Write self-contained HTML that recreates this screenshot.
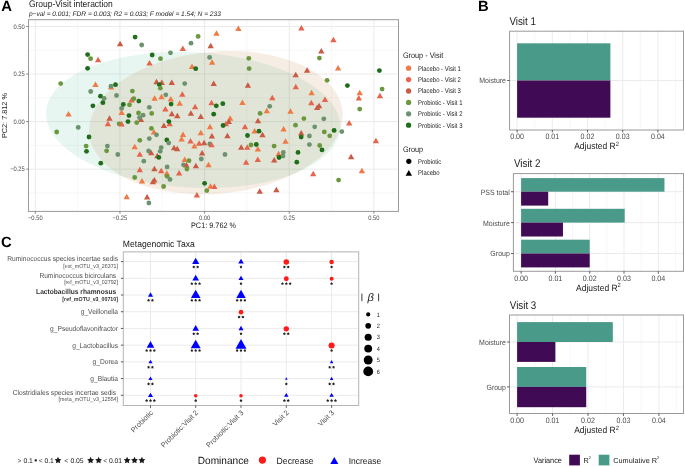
<!DOCTYPE html>
<html><head><meta charset="utf-8"><style>html,body{margin:0;padding:0;background:#fff;}svg{display:block;filter:blur(0.3px);}</style></head>
<body>
<svg width="685" height="467" viewBox="0 0 685 467" font-family='"Liberation Sans", sans-serif' text-rendering="geometricPrecision">
<rect x="0.00" y="0.00" width="685.00" height="467.00" fill="#ffffff" stroke="none" stroke-width="0"/>
<text x="1.20" y="11.30" font-size="14.8" text-anchor="start" fill="#000" font-weight="bold">A</text>
<text x="0" y="0" transform="translate(28.90 7.30) scale(0.8929 1)" font-size="9.520" text-anchor="start" fill="#1a1a1a">Group-Visit interaction</text>
<text x="28.90" y="15.60" font-size="6.6" text-anchor="start" fill="#1a1a1a" font-style="italic">p−val = 0.001; FDR = 0.003; R2 = 0.033; F model = 1.54; N = 233</text>
<clipPath id="clipA"><rect x="28.5" y="19.7" width="370.0" height="191.70000000000002"/></clipPath>
<g clip-path="url(#clipA)">
<line x1="77.62" y1="19.70" x2="77.62" y2="211.40" stroke="#f5f5f5" stroke-width="0.8"/>
<line x1="162.27" y1="19.70" x2="162.27" y2="211.40" stroke="#f5f5f5" stroke-width="0.8"/>
<line x1="246.93" y1="19.70" x2="246.93" y2="211.40" stroke="#f5f5f5" stroke-width="0.8"/>
<line x1="331.57" y1="19.70" x2="331.57" y2="211.40" stroke="#f5f5f5" stroke-width="0.8"/>
<line x1="28.50" y1="192.92" x2="398.50" y2="192.92" stroke="#f5f5f5" stroke-width="0.8"/>
<line x1="28.50" y1="145.38" x2="398.50" y2="145.38" stroke="#f5f5f5" stroke-width="0.8"/>
<line x1="28.50" y1="97.82" x2="398.50" y2="97.82" stroke="#f5f5f5" stroke-width="0.8"/>
<line x1="28.50" y1="50.28" x2="398.50" y2="50.28" stroke="#f5f5f5" stroke-width="0.8"/>
<line x1="35.30" y1="19.70" x2="35.30" y2="211.40" stroke="#ebebeb" stroke-width="1"/>
<line x1="119.95" y1="19.70" x2="119.95" y2="211.40" stroke="#ebebeb" stroke-width="1"/>
<line x1="204.60" y1="19.70" x2="204.60" y2="211.40" stroke="#ebebeb" stroke-width="1"/>
<line x1="289.25" y1="19.70" x2="289.25" y2="211.40" stroke="#ebebeb" stroke-width="1"/>
<line x1="373.90" y1="19.70" x2="373.90" y2="211.40" stroke="#ebebeb" stroke-width="1"/>
<line x1="28.50" y1="169.15" x2="398.50" y2="169.15" stroke="#ebebeb" stroke-width="1"/>
<line x1="28.50" y1="121.60" x2="398.50" y2="121.60" stroke="#ebebeb" stroke-width="1"/>
<line x1="28.50" y1="74.05" x2="398.50" y2="74.05" stroke="#ebebeb" stroke-width="1"/>
<line x1="28.50" y1="26.50" x2="398.50" y2="26.50" stroke="#ebebeb" stroke-width="1"/>
<ellipse cx="193.18" cy="119.97" rx="147.38" ry="67.71" transform="rotate(3.15 193.18 119.97)" fill="rgb(55,180,130)" fill-opacity="0.12"/>
<ellipse cx="215.95" cy="122.69" rx="127.1" ry="71.05" transform="rotate(-5.05 215.95 122.69)" fill="rgb(186,117,47)" fill-opacity="0.13"/>
<circle cx="87.60" cy="54.60" r="2.42" fill="#1e6e1a"/>
<circle cx="90.60" cy="58.70" r="2.42" fill="#6b983e"/>
<polygon points="98.10,56.66 101.26,62.14 94.94,62.14" fill="#e6634c"/>
<circle cx="87.60" cy="68.30" r="2.42" fill="#1e6e1a"/>
<polygon points="120.10,40.66 123.26,46.14 116.94,46.14" fill="#c95a43"/>
<circle cx="135.10" cy="37.10" r="2.42" fill="#1e6e1a"/>
<circle cx="141.70" cy="45.00" r="2.42" fill="#6c9270"/>
<circle cx="152.20" cy="55.00" r="2.42" fill="#1e6e1a"/>
<circle cx="160.50" cy="58.70" r="2.42" fill="#6b983e"/>
<circle cx="170.50" cy="52.80" r="2.42" fill="#6c9270"/>
<polygon points="149.50,60.06 152.66,65.54 146.34,65.54" fill="#e6634c"/>
<polygon points="182.80,45.46 185.96,50.94 179.64,50.94" fill="#e6634c"/>
<circle cx="191.00" cy="43.20" r="2.42" fill="#6c9270"/>
<circle cx="198.10" cy="36.40" r="2.42" fill="#6b983e"/>
<polygon points="192.00,63.56 195.16,69.04 188.84,69.04" fill="#f07a45"/>
<circle cx="195.70" cy="68.70" r="2.42" fill="#1e6e1a"/>
<polygon points="210.70,42.66 213.86,48.14 207.54,48.14" fill="#c95a43"/>
<circle cx="209.60" cy="57.40" r="2.42" fill="#6c9270"/>
<polygon points="212.10,59.16 215.26,64.64 208.94,64.64" fill="#f07a45"/>
<polygon points="238.40,25.56 241.56,31.04 235.24,31.04" fill="#f07a45"/>
<polygon points="216.50,30.36 219.66,35.84 213.34,35.84" fill="#f07a45"/>
<circle cx="248.80" cy="58.30" r="2.42" fill="#6b983e"/>
<circle cx="249.10" cy="68.60" r="2.42" fill="#6b983e"/>
<polygon points="295.70,71.76 298.86,77.24 292.54,77.24" fill="#c95a43"/>
<polygon points="301.40,25.06 304.56,30.54 298.24,30.54" fill="#e6634c"/>
<polygon points="333.40,36.86 336.56,42.34 330.24,42.34" fill="#e6634c"/>
<polygon points="321.30,47.96 324.46,53.44 318.14,53.44" fill="#c95a43"/>
<circle cx="319.40" cy="58.10" r="2.42" fill="#6b983e"/>
<polygon points="307.10,67.16 310.26,72.64 303.94,72.64" fill="#c95a43"/>
<polygon points="338.10,64.96 341.26,70.44 334.94,70.44" fill="#f07a45"/>
<circle cx="379.40" cy="70.60" r="2.42" fill="#1e6e1a"/>
<circle cx="327.10" cy="80.30" r="2.42" fill="#6b983e"/>
<circle cx="60.70" cy="83.60" r="2.42" fill="#6b983e"/>
<polygon points="95.50,81.56 98.66,87.04 92.34,87.04" fill="#f07a45"/>
<polygon points="111.00,84.06 114.16,89.54 107.84,89.54" fill="#f07a45"/>
<circle cx="111.00" cy="86.20" r="2.42" fill="#6c9270"/>
<circle cx="115.50" cy="84.70" r="2.42" fill="#1e6e1a"/>
<circle cx="90.70" cy="91.50" r="2.42" fill="#6c9270"/>
<circle cx="100.50" cy="96.20" r="2.42" fill="#1e6e1a"/>
<circle cx="104.10" cy="98.40" r="2.42" fill="#6c9270"/>
<circle cx="102.90" cy="102.70" r="2.42" fill="#1e6e1a"/>
<circle cx="116.50" cy="95.50" r="2.42" fill="#6c9270"/>
<circle cx="92.90" cy="105.80" r="2.42" fill="#1e6e1a"/>
<polygon points="68.50,110.96 71.66,116.44 65.34,116.44" fill="#f07a45"/>
<polygon points="109.50,115.26 112.66,120.74 106.34,120.74" fill="#c95a43"/>
<polygon points="107.90,120.76 111.06,126.24 104.74,126.24" fill="#e6634c"/>
<circle cx="119.10" cy="123.80" r="2.42" fill="#6b983e"/>
<circle cx="78.20" cy="127.40" r="2.42" fill="#6c9270"/>
<circle cx="56.70" cy="132.00" r="2.42" fill="#6b983e"/>
<circle cx="89.00" cy="137.00" r="2.42" fill="#1e6e1a"/>
<circle cx="86.10" cy="146.10" r="2.42" fill="#6b983e"/>
<circle cx="107.40" cy="146.10" r="2.42" fill="#6c9270"/>
<circle cx="121.60" cy="108.40" r="2.42" fill="#6c9270"/>
<polygon points="121.60,109.56 124.76,115.04 118.44,115.04" fill="#f07a45"/>
<polygon points="121.60,121.06 124.76,126.54 118.44,126.54" fill="#e6634c"/>
<polygon points="156.50,78.66 159.66,84.14 153.34,84.14" fill="#c95a43"/>
<polygon points="161.80,79.46 164.96,84.94 158.64,84.94" fill="#c95a43"/>
<polygon points="171.80,79.46 174.96,84.94 168.64,84.94" fill="#c95a43"/>
<circle cx="159.30" cy="84.60" r="2.42" fill="#1e6e1a"/>
<circle cx="160.30" cy="88.20" r="2.42" fill="#6b983e"/>
<circle cx="184.70" cy="83.60" r="2.42" fill="#6c9270"/>
<circle cx="132.40" cy="91.10" r="2.42" fill="#6b983e"/>
<circle cx="165.80" cy="94.80" r="2.42" fill="#6c9270"/>
<polygon points="154.60,95.16 157.76,100.64 151.44,100.64" fill="#f07a45"/>
<polygon points="161.50,93.76 164.66,99.24 158.34,99.24" fill="#f07a45"/>
<polygon points="170.80,95.96 173.96,101.44 167.64,101.44" fill="#f07a45"/>
<polygon points="182.30,91.36 185.46,96.84 179.14,96.84" fill="#e6634c"/>
<polygon points="131.60,97.06 134.76,102.54 128.44,102.54" fill="#e6634c"/>
<circle cx="133.80" cy="98.70" r="2.42" fill="#6b983e"/>
<circle cx="138.80" cy="101.10" r="2.42" fill="#1e6e1a"/>
<circle cx="123.30" cy="104.40" r="2.42" fill="#1e6e1a"/>
<circle cx="129.50" cy="104.80" r="2.42" fill="#6b983e"/>
<circle cx="171.10" cy="104.10" r="2.42" fill="#1e6e1a"/>
<polygon points="179.70,100.26 182.86,105.74 176.54,105.74" fill="#f07a45"/>
<circle cx="149.30" cy="107.30" r="2.42" fill="#6c9270"/>
<polygon points="165.40,105.96 168.56,111.44 162.24,111.44" fill="#e6634c"/>
<polygon points="195.10,103.76 198.26,109.24 191.94,109.24" fill="#e6634c"/>
<circle cx="138.50" cy="113.00" r="2.42" fill="#6b983e"/>
<polygon points="141.00,116.46 144.16,121.94 137.84,121.94" fill="#c95a43"/>
<circle cx="143.10" cy="115.20" r="2.42" fill="#6c9270"/>
<circle cx="139.50" cy="117.70" r="2.42" fill="#6c9270"/>
<circle cx="151.70" cy="113.40" r="2.42" fill="#6b983e"/>
<circle cx="129.00" cy="115.60" r="2.42" fill="#1e6e1a"/>
<polygon points="171.80,110.66 174.96,116.14 168.64,116.14" fill="#c95a43"/>
<polygon points="177.30,112.86 180.46,118.34 174.14,118.34" fill="#c95a43"/>
<polygon points="190.90,110.26 194.06,115.74 187.74,115.74" fill="#c95a43"/>
<polygon points="200.80,113.56 203.96,119.04 197.64,119.04" fill="#c95a43"/>
<circle cx="128.00" cy="121.60" r="2.42" fill="#1e6e1a"/>
<circle cx="136.70" cy="122.60" r="2.42" fill="#6b983e"/>
<polygon points="169.70,120.76 172.86,126.24 166.54,126.24" fill="#e6634c"/>
<circle cx="168.90" cy="121.60" r="2.42" fill="#1e6e1a"/>
<polygon points="163.90,122.46 167.06,127.94 160.74,127.94" fill="#c95a43"/>
<circle cx="151.40" cy="128.40" r="2.42" fill="#6b983e"/>
<polygon points="153.90,128.96 157.06,134.44 150.74,134.44" fill="#f07a45"/>
<circle cx="156.50" cy="134.80" r="2.42" fill="#6c9270"/>
<polygon points="183.00,131.46 186.16,136.94 179.84,136.94" fill="#f07a45"/>
<polygon points="181.60,136.06 184.76,141.54 178.44,141.54" fill="#f07a45"/>
<polygon points="200.80,129.66 203.96,135.14 197.64,135.14" fill="#f07a45"/>
<polygon points="190.50,137.96 193.66,143.44 187.34,143.44" fill="#e6634c"/>
<polygon points="210.00,123.86 213.16,129.34 206.84,129.34" fill="#f07a45"/>
<circle cx="139.80" cy="140.30" r="2.42" fill="#6b983e"/>
<circle cx="149.30" cy="138.60" r="2.42" fill="#6c9270"/>
<circle cx="166.80" cy="140.00" r="2.42" fill="#1e6e1a"/>
<circle cx="168.70" cy="142.90" r="2.42" fill="#6c9270"/>
<polygon points="199.10,140.36 202.26,145.84 195.94,145.84" fill="#e6634c"/>
<polygon points="204.10,139.66 207.26,145.14 200.94,145.14" fill="#c95a43"/>
<polygon points="211.50,99.76 214.66,105.24 208.34,105.24" fill="#e6634c"/>
<polygon points="213.70,80.46 216.86,85.94 210.54,85.94" fill="#c95a43"/>
<polygon points="247.90,82.26 251.06,87.74 244.74,87.74" fill="#c95a43"/>
<polygon points="295.80,83.76 298.96,89.24 292.64,89.24" fill="#e6634c"/>
<polygon points="272.30,94.76 275.46,100.24 269.14,100.24" fill="#e6634c"/>
<polygon points="242.40,99.46 245.56,104.94 239.24,104.94" fill="#f07a45"/>
<circle cx="216.30" cy="105.80" r="2.42" fill="#1e6e1a"/>
<circle cx="222.80" cy="103.70" r="2.42" fill="#1e6e1a"/>
<circle cx="269.70" cy="106.30" r="2.42" fill="#6c9270"/>
<polygon points="266.80,107.66 269.96,113.14 263.64,113.14" fill="#f07a45"/>
<polygon points="290.50,108.16 293.66,113.64 287.34,113.64" fill="#f07a45"/>
<circle cx="213.70" cy="114.20" r="2.42" fill="#1e6e1a"/>
<circle cx="260.10" cy="113.40" r="2.42" fill="#6b983e"/>
<polygon points="230.20,115.26 233.36,120.74 227.04,120.74" fill="#f07a45"/>
<polygon points="228.80,118.56 231.96,124.04 225.64,124.04" fill="#c95a43"/>
<polygon points="258.00,117.76 261.16,123.24 254.84,123.24" fill="#c95a43"/>
<polygon points="226.00,120.76 229.16,126.24 222.84,126.24" fill="#e6634c"/>
<circle cx="223.10" cy="125.50" r="2.42" fill="#1e6e1a"/>
<polygon points="245.00,123.86 248.16,129.34 241.84,129.34" fill="#e6634c"/>
<circle cx="295.50" cy="125.20" r="2.42" fill="#6b983e"/>
<polygon points="283.60,126.06 286.76,131.54 280.44,131.54" fill="#f07a45"/>
<polygon points="254.60,127.96 257.76,133.44 251.44,133.44" fill="#f07a45"/>
<circle cx="259.00" cy="131.20" r="2.42" fill="#1e6e1a"/>
<polygon points="262.50,131.76 265.66,137.24 259.34,137.24" fill="#c95a43"/>
<polygon points="211.90,132.96 215.06,138.44 208.74,138.44" fill="#c95a43"/>
<polygon points="227.40,132.76 230.56,138.24 224.24,138.24" fill="#c95a43"/>
<circle cx="247.50" cy="135.50" r="2.42" fill="#1e6e1a"/>
<polygon points="285.50,138.26 288.66,143.74 282.34,143.74" fill="#f07a45"/>
<circle cx="209.80" cy="143.90" r="2.42" fill="#6c9270"/>
<polygon points="211.60,141.86 214.76,147.34 208.44,147.34" fill="#e6634c"/>
<circle cx="251.00" cy="145.00" r="2.42" fill="#6b983e"/>
<circle cx="256.30" cy="144.50" r="2.42" fill="#1e6e1a"/>
<circle cx="274.10" cy="146.10" r="2.42" fill="#6b983e"/>
<polygon points="241.20,144.26 244.36,149.74 238.04,149.74" fill="#c95a43"/>
<polygon points="247.30,144.26 250.46,149.74 244.14,149.74" fill="#e6634c"/>
<circle cx="347.40" cy="85.60" r="2.42" fill="#1e6e1a"/>
<circle cx="382.10" cy="89.10" r="2.42" fill="#6b983e"/>
<polygon points="311.60,89.76 314.76,95.24 308.44,95.24" fill="#f07a45"/>
<polygon points="359.70,89.76 362.86,95.24 356.54,95.24" fill="#f07a45"/>
<polygon points="358.80,94.96 361.96,100.44 355.64,100.44" fill="#e6634c"/>
<polygon points="379.90,92.76 383.06,98.24 376.74,98.24" fill="#e6634c"/>
<polygon points="325.00,96.46 328.16,101.94 321.84,101.94" fill="#e6634c"/>
<polygon points="311.30,99.86 314.46,105.34 308.14,105.34" fill="#e6634c"/>
<polygon points="319.10,102.66 322.26,108.14 315.94,108.14" fill="#c95a43"/>
<polygon points="317.20,104.56 320.36,110.04 314.04,110.04" fill="#c95a43"/>
<circle cx="359.70" cy="109.10" r="2.42" fill="#6b983e"/>
<circle cx="303.90" cy="118.60" r="2.42" fill="#6b983e"/>
<circle cx="323.80" cy="118.80" r="2.42" fill="#6c9270"/>
<polygon points="349.20,120.06 352.36,125.54 346.04,125.54" fill="#e6634c"/>
<circle cx="314.70" cy="126.80" r="2.42" fill="#6c9270"/>
<circle cx="334.10" cy="130.40" r="2.42" fill="#1e6e1a"/>
<circle cx="341.80" cy="131.60" r="2.42" fill="#6c9270"/>
<circle cx="324.30" cy="131.90" r="2.42" fill="#6b983e"/>
<circle cx="329.70" cy="135.80" r="2.42" fill="#6b983e"/>
<polygon points="301.20,130.06 304.36,135.54 298.04,135.54" fill="#c95a43"/>
<circle cx="301.20" cy="137.10" r="2.42" fill="#1e6e1a"/>
<circle cx="309.40" cy="136.00" r="2.42" fill="#6c9270"/>
<circle cx="309.40" cy="144.60" r="2.42" fill="#6c9270"/>
<circle cx="319.70" cy="145.50" r="2.42" fill="#6b983e"/>
<polygon points="375.90,137.76 379.06,143.24 372.74,143.24" fill="#e6634c"/>
<circle cx="86.50" cy="151.30" r="2.42" fill="#1e6e1a"/>
<circle cx="106.60" cy="150.80" r="2.42" fill="#6b983e"/>
<circle cx="117.80" cy="154.50" r="2.42" fill="#6c9270"/>
<circle cx="100.80" cy="163.20" r="2.42" fill="#1e6e1a"/>
<polygon points="134.70,143.86 137.86,149.34 131.54,149.34" fill="#f07a45"/>
<circle cx="161.20" cy="147.60" r="2.42" fill="#6c9270"/>
<circle cx="160.20" cy="151.30" r="2.42" fill="#6c9270"/>
<circle cx="148.60" cy="151.00" r="2.42" fill="#6c9270"/>
<polygon points="151.20,149.66 154.36,155.14 148.04,155.14" fill="#c95a43"/>
<polygon points="139.80,151.16 142.96,156.64 136.64,156.64" fill="#e6634c"/>
<polygon points="157.30,152.86 160.46,158.34 154.14,158.34" fill="#c95a43"/>
<circle cx="158.80" cy="157.40" r="2.42" fill="#1e6e1a"/>
<polygon points="174.00,144.86 177.16,150.34 170.84,150.34" fill="#c95a43"/>
<polygon points="177.20,145.66 180.36,151.14 174.04,151.14" fill="#c95a43"/>
<polygon points="194.40,142.96 197.56,148.44 191.24,148.44" fill="#f07a45"/>
<polygon points="202.10,149.96 205.26,155.44 198.94,155.44" fill="#c95a43"/>
<circle cx="143.80" cy="161.20" r="2.42" fill="#6c9270"/>
<polygon points="184.70,156.56 187.86,162.04 181.54,162.04" fill="#f07a45"/>
<circle cx="189.00" cy="160.70" r="2.42" fill="#6b983e"/>
<circle cx="183.50" cy="164.80" r="2.42" fill="#6c9270"/>
<polygon points="186.40,162.06 189.56,167.54 183.24,167.54" fill="#c95a43"/>
<circle cx="186.90" cy="169.00" r="2.42" fill="#6b983e"/>
<circle cx="201.30" cy="159.00" r="2.42" fill="#6c9270"/>
<polygon points="195.90,162.76 199.06,168.24 192.74,168.24" fill="#c95a43"/>
<polygon points="208.50,161.66 211.66,167.14 205.34,167.14" fill="#f07a45"/>
<polygon points="139.80,166.76 142.96,172.24 136.64,172.24" fill="#e6634c"/>
<polygon points="154.40,165.76 157.56,171.24 151.24,171.24" fill="#c95a43"/>
<polygon points="161.20,167.76 164.36,173.24 158.04,173.24" fill="#e6634c"/>
<circle cx="167.10" cy="166.90" r="2.42" fill="#6c9270"/>
<polygon points="166.80,170.36 169.96,175.84 163.64,175.84" fill="#f07a45"/>
<circle cx="167.10" cy="176.30" r="2.42" fill="#6b983e"/>
<circle cx="170.00" cy="179.40" r="2.42" fill="#6c9270"/>
<polygon points="179.10,170.06 182.26,175.54 175.94,175.54" fill="#e6634c"/>
<circle cx="134.70" cy="177.50" r="2.42" fill="#6b983e"/>
<polygon points="142.00,177.96 145.16,183.44 138.84,183.44" fill="#f07a45"/>
<polygon points="154.40,176.96 157.56,182.44 151.24,182.44" fill="#c95a43"/>
<polygon points="152.90,178.86 156.06,184.34 149.74,184.34" fill="#c95a43"/>
<circle cx="163.60" cy="186.50" r="2.42" fill="#6b983e"/>
<circle cx="204.60" cy="183.30" r="2.42" fill="#1e6e1a"/>
<circle cx="206.80" cy="190.60" r="2.42" fill="#6b983e"/>
<polygon points="210.50,183.16 213.66,188.64 207.34,188.64" fill="#f07a45"/>
<polygon points="214.30,183.46 217.46,188.94 211.14,188.94" fill="#e6634c"/>
<polygon points="196.90,191.96 200.06,197.44 193.74,197.44" fill="#e6634c"/>
<polygon points="126.70,193.66 129.86,199.14 123.54,199.14" fill="#f07a45"/>
<polygon points="147.10,193.96 150.26,199.44 143.94,199.44" fill="#c95a43"/>
<circle cx="148.90" cy="203.00" r="2.42" fill="#6c9270"/>
<circle cx="225.00" cy="154.50" r="2.42" fill="#6c9270"/>
<polygon points="246.10,159.16 249.26,164.64 242.94,164.64" fill="#e6634c"/>
<polygon points="257.80,156.56 260.96,162.04 254.64,162.04" fill="#e6634c"/>
<polygon points="274.20,156.96 277.36,162.44 271.04,162.44" fill="#c95a43"/>
<polygon points="278.60,150.76 281.76,156.24 275.44,156.24" fill="#f07a45"/>
<circle cx="283.30" cy="152.40" r="2.42" fill="#6c9270"/>
<circle cx="283.00" cy="156.10" r="2.42" fill="#6c9270"/>
<circle cx="279.00" cy="157.50" r="2.42" fill="#1e6e1a"/>
<circle cx="298.00" cy="152.40" r="2.42" fill="#1e6e1a"/>
<circle cx="296.80" cy="162.20" r="2.42" fill="#1e6e1a"/>
<polygon points="257.90,145.96 261.06,151.44 254.74,151.44" fill="#f07a45"/>
<polygon points="259.70,188.26 262.86,193.74 256.54,193.74" fill="#c95a43"/>
<polygon points="276.40,186.66 279.56,192.14 273.24,192.14" fill="#c95a43"/>
<circle cx="322.00" cy="149.90" r="2.42" fill="#1e6e1a"/>
<polygon points="351.10,153.76 354.26,159.24 347.94,159.24" fill="#c95a43"/>
<polygon points="313.20,170.76 316.36,176.24 310.04,176.24" fill="#e6634c"/>
<polygon points="361.90,167.76 365.06,173.24 358.74,173.24" fill="#f07a45"/>
<circle cx="338.60" cy="180.10" r="2.42" fill="#6b983e"/>
</g>
<rect x="28.5" y="19.7" width="370.0" height="191.70000000000002" fill="none" stroke="#9a9a9a" stroke-width="1"/>
<line x1="26.20" y1="26.50" x2="28.50" y2="26.50" stroke="#6a6a6a" stroke-width="0.8"/>
<text x="0" y="0" transform="translate(24.80 28.70) scale(0.9091 1)" font-size="6.380" text-anchor="end" fill="#4d4d4d">0.50</text>
<line x1="26.20" y1="74.05" x2="28.50" y2="74.05" stroke="#6a6a6a" stroke-width="0.8"/>
<text x="0" y="0" transform="translate(24.80 76.25) scale(0.9091 1)" font-size="6.380" text-anchor="end" fill="#4d4d4d">0.25</text>
<line x1="26.20" y1="121.60" x2="28.50" y2="121.60" stroke="#6a6a6a" stroke-width="0.8"/>
<text x="0" y="0" transform="translate(24.80 123.80) scale(0.9091 1)" font-size="6.380" text-anchor="end" fill="#4d4d4d">0.00</text>
<line x1="26.20" y1="169.15" x2="28.50" y2="169.15" stroke="#6a6a6a" stroke-width="0.8"/>
<text x="0" y="0" transform="translate(24.80 171.35) scale(0.9091 1)" font-size="6.380" text-anchor="end" fill="#4d4d4d">−0.25</text>
<line x1="35.30" y1="211.40" x2="35.30" y2="213.70" stroke="#6a6a6a" stroke-width="0.8"/>
<text x="0" y="0" transform="translate(35.30 219.60) scale(0.9091 1)" font-size="6.380" text-anchor="middle" fill="#4d4d4d">−0.50</text>
<line x1="119.95" y1="211.40" x2="119.95" y2="213.70" stroke="#6a6a6a" stroke-width="0.8"/>
<text x="0" y="0" transform="translate(119.95 219.60) scale(0.9091 1)" font-size="6.380" text-anchor="middle" fill="#4d4d4d">−0.25</text>
<line x1="204.60" y1="211.40" x2="204.60" y2="213.70" stroke="#6a6a6a" stroke-width="0.8"/>
<text x="0" y="0" transform="translate(204.60 219.60) scale(0.9091 1)" font-size="6.380" text-anchor="middle" fill="#4d4d4d">0.00</text>
<line x1="289.25" y1="211.40" x2="289.25" y2="213.70" stroke="#6a6a6a" stroke-width="0.8"/>
<text x="0" y="0" transform="translate(289.25 219.60) scale(0.9091 1)" font-size="6.380" text-anchor="middle" fill="#4d4d4d">0.25</text>
<line x1="373.90" y1="211.40" x2="373.90" y2="213.70" stroke="#6a6a6a" stroke-width="0.8"/>
<text x="0" y="0" transform="translate(373.90 219.60) scale(0.9091 1)" font-size="6.380" text-anchor="middle" fill="#4d4d4d">0.50</text>
<text x="0" y="0" transform="translate(213.50 227.90) scale(0.9259 1)" font-size="7.884" text-anchor="middle" fill="#1a1a1a">PC1: 9.762 %</text>
<text x="0" y="0" font-size="7.3" text-anchor="middle" fill="#1a1a1a" transform="translate(6.9 115.6) rotate(-90)">PC2: 7.812 %</text>
<text x="0" y="0" transform="translate(402.90 58.30) scale(0.9091 1)" font-size="8.030" text-anchor="start" fill="#1a1a1a">Group - Visit</text>
<circle cx="408.60" cy="68.20" r="2.65" fill="#f07a45"/>
<text x="0" y="0" transform="translate(418.00 70.60) scale(0.8696 1)" font-size="6.842" text-anchor="start" fill="#1a1a1a">Placebo - Visit 1</text>
<circle cx="408.60" cy="79.60" r="2.65" fill="#e6634c"/>
<text x="0" y="0" transform="translate(418.00 82.00) scale(0.8696 1)" font-size="6.842" text-anchor="start" fill="#1a1a1a">Placebo - Visit 2</text>
<circle cx="408.60" cy="91.00" r="2.65" fill="#c95a43"/>
<text x="0" y="0" transform="translate(418.00 93.40) scale(0.8696 1)" font-size="6.842" text-anchor="start" fill="#1a1a1a">Placebo - Visit 3</text>
<circle cx="408.60" cy="102.40" r="2.65" fill="#6b983e"/>
<text x="0" y="0" transform="translate(418.00 104.80) scale(0.8696 1)" font-size="6.842" text-anchor="start" fill="#1a1a1a">Probiotic - Visit 1</text>
<circle cx="408.60" cy="113.80" r="2.65" fill="#6c9270"/>
<text x="0" y="0" transform="translate(418.00 116.20) scale(0.8696 1)" font-size="6.842" text-anchor="start" fill="#1a1a1a">Probiotic - Visit 2</text>
<circle cx="408.60" cy="125.20" r="2.65" fill="#1e6e1a"/>
<text x="0" y="0" transform="translate(418.00 127.60) scale(0.8696 1)" font-size="6.842" text-anchor="start" fill="#1a1a1a">Probiotic - Visit 3</text>
<text x="0" y="0" transform="translate(402.90 151.50) scale(0.9091 1)" font-size="8.030" text-anchor="start" fill="#1a1a1a">Group</text>
<circle cx="408.80" cy="161.30" r="2.60" fill="#000"/>
<text x="0" y="0" transform="translate(418.10 163.70) scale(0.8696 1)" font-size="6.842" text-anchor="start" fill="#1a1a1a">Probiotic</text>
<polygon points="408.80,170.10 412.03,175.70 405.57,175.70" fill="#000"/>
<text x="0" y="0" transform="translate(418.10 175.30) scale(0.8696 1)" font-size="6.842" text-anchor="start" fill="#1a1a1a">Placebo</text>
<text x="478.00" y="11.30" font-size="14.8" text-anchor="start" fill="#000" font-weight="bold">B</text>
<text x="0" y="0" transform="translate(509.40 25.00) scale(0.8696 1)" font-size="11.270" text-anchor="start" fill="#1a1a1a">Visit 1</text>
<line x1="534.70" y1="31.20" x2="534.70" y2="130.00" stroke="#f5f5f5" stroke-width="0.8"/>
<line x1="569.90" y1="31.20" x2="569.90" y2="130.00" stroke="#f5f5f5" stroke-width="0.8"/>
<line x1="605.10" y1="31.20" x2="605.10" y2="130.00" stroke="#f5f5f5" stroke-width="0.8"/>
<line x1="640.30" y1="31.20" x2="640.30" y2="130.00" stroke="#f5f5f5" stroke-width="0.8"/>
<line x1="675.50" y1="31.20" x2="675.50" y2="130.00" stroke="#f5f5f5" stroke-width="0.8"/>
<line x1="517.10" y1="31.20" x2="517.10" y2="130.00" stroke="#ebebeb" stroke-width="1"/>
<line x1="552.30" y1="31.20" x2="552.30" y2="130.00" stroke="#ebebeb" stroke-width="1"/>
<line x1="587.50" y1="31.20" x2="587.50" y2="130.00" stroke="#ebebeb" stroke-width="1"/>
<line x1="622.70" y1="31.20" x2="622.70" y2="130.00" stroke="#ebebeb" stroke-width="1"/>
<line x1="657.90" y1="31.20" x2="657.90" y2="130.00" stroke="#ebebeb" stroke-width="1"/>
<line x1="509.60" y1="80.50" x2="683.50" y2="80.50" stroke="#ebebeb" stroke-width="1"/>
<rect x="517.10" y="43.30" width="93.28" height="37.20" fill="#4a9a8a" stroke="none" stroke-width="0"/>
<rect x="517.10" y="80.50" width="93.28" height="37.20" fill="#400a55" stroke="none" stroke-width="0"/>
<rect x="509.6" y="31.2" width="173.89999999999998" height="98.8" fill="none" stroke="#9a9a9a" stroke-width="1"/>
<line x1="507.20" y1="80.50" x2="509.60" y2="80.50" stroke="#333333" stroke-width="0.8"/>
<text x="0" y="0" transform="translate(506.00 83.45) scale(0.9091 1)" font-size="7.700" text-anchor="end" fill="#4d4d4d">Moisture</text>
<line x1="517.10" y1="130.00" x2="517.10" y2="132.40" stroke="#333333" stroke-width="0.8"/>
<text x="0" y="0" transform="translate(517.10 139.40) scale(0.9091 1)" font-size="7.810" text-anchor="middle" fill="#4d4d4d">0.00</text>
<line x1="552.30" y1="130.00" x2="552.30" y2="132.40" stroke="#333333" stroke-width="0.8"/>
<text x="0" y="0" transform="translate(552.30 139.40) scale(0.9091 1)" font-size="7.810" text-anchor="middle" fill="#4d4d4d">0.01</text>
<line x1="587.50" y1="130.00" x2="587.50" y2="132.40" stroke="#333333" stroke-width="0.8"/>
<text x="0" y="0" transform="translate(587.50 139.40) scale(0.9091 1)" font-size="7.810" text-anchor="middle" fill="#4d4d4d">0.02</text>
<line x1="622.70" y1="130.00" x2="622.70" y2="132.40" stroke="#333333" stroke-width="0.8"/>
<text x="0" y="0" transform="translate(622.70 139.40) scale(0.9091 1)" font-size="7.810" text-anchor="middle" fill="#4d4d4d">0.03</text>
<line x1="657.90" y1="130.00" x2="657.90" y2="132.40" stroke="#333333" stroke-width="0.8"/>
<text x="0" y="0" transform="translate(657.90 139.40) scale(0.9091 1)" font-size="7.810" text-anchor="middle" fill="#4d4d4d">0.04</text>
<text x="0" y="0" transform="translate(596.55 149.00) scale(0.9259 1)" font-size="9.180" text-anchor="middle" fill="#1a1a1a">Adjusted R<tspan font-size="6.2" dy="-3.3">2</tspan></text>
<text x="0" y="0" transform="translate(514.00 166.50) scale(0.8696 1)" font-size="11.270" text-anchor="start" fill="#1a1a1a">Visit 2</text>
<line x1="538.25" y1="173.60" x2="538.25" y2="271.30" stroke="#f5f5f5" stroke-width="0.8"/>
<line x1="572.55" y1="173.60" x2="572.55" y2="271.30" stroke="#f5f5f5" stroke-width="0.8"/>
<line x1="606.85" y1="173.60" x2="606.85" y2="271.30" stroke="#f5f5f5" stroke-width="0.8"/>
<line x1="641.15" y1="173.60" x2="641.15" y2="271.30" stroke="#f5f5f5" stroke-width="0.8"/>
<line x1="675.45" y1="173.60" x2="675.45" y2="271.30" stroke="#f5f5f5" stroke-width="0.8"/>
<line x1="521.10" y1="173.60" x2="521.10" y2="271.30" stroke="#ebebeb" stroke-width="1"/>
<line x1="555.40" y1="173.60" x2="555.40" y2="271.30" stroke="#ebebeb" stroke-width="1"/>
<line x1="589.70" y1="173.60" x2="589.70" y2="271.30" stroke="#ebebeb" stroke-width="1"/>
<line x1="624.00" y1="173.60" x2="624.00" y2="271.30" stroke="#ebebeb" stroke-width="1"/>
<line x1="658.30" y1="173.60" x2="658.30" y2="271.30" stroke="#ebebeb" stroke-width="1"/>
<line x1="513.40" y1="191.70" x2="683.50" y2="191.70" stroke="#ebebeb" stroke-width="1"/>
<line x1="513.40" y1="222.60" x2="683.50" y2="222.60" stroke="#ebebeb" stroke-width="1"/>
<line x1="513.40" y1="253.50" x2="683.50" y2="253.50" stroke="#ebebeb" stroke-width="1"/>
<rect x="521.10" y="178.10" width="143.37" height="13.60" fill="#4a9a8a" stroke="none" stroke-width="0"/>
<rect x="521.10" y="191.70" width="27.10" height="13.90" fill="#400a55" stroke="none" stroke-width="0"/>
<rect x="521.10" y="208.80" width="103.59" height="13.80" fill="#4a9a8a" stroke="none" stroke-width="0"/>
<rect x="521.10" y="222.60" width="41.85" height="13.90" fill="#400a55" stroke="none" stroke-width="0"/>
<rect x="521.10" y="239.70" width="68.60" height="13.80" fill="#4a9a8a" stroke="none" stroke-width="0"/>
<rect x="521.10" y="253.50" width="68.60" height="13.90" fill="#400a55" stroke="none" stroke-width="0"/>
<rect x="513.4" y="173.6" width="170.10000000000002" height="97.70000000000002" fill="none" stroke="#9a9a9a" stroke-width="1"/>
<line x1="511.00" y1="191.70" x2="513.40" y2="191.70" stroke="#333333" stroke-width="0.8"/>
<text x="0" y="0" transform="translate(509.80 194.65) scale(0.9091 1)" font-size="7.700" text-anchor="end" fill="#4d4d4d">PSS total</text>
<line x1="511.00" y1="222.60" x2="513.40" y2="222.60" stroke="#333333" stroke-width="0.8"/>
<text x="0" y="0" transform="translate(509.80 225.55) scale(0.9091 1)" font-size="7.700" text-anchor="end" fill="#4d4d4d">Moisture</text>
<line x1="511.00" y1="253.50" x2="513.40" y2="253.50" stroke="#333333" stroke-width="0.8"/>
<text x="0" y="0" transform="translate(509.80 256.45) scale(0.9091 1)" font-size="7.700" text-anchor="end" fill="#4d4d4d">Group</text>
<line x1="521.10" y1="271.30" x2="521.10" y2="273.70" stroke="#333333" stroke-width="0.8"/>
<text x="0" y="0" transform="translate(521.10 281.10) scale(0.9091 1)" font-size="7.810" text-anchor="middle" fill="#4d4d4d">0.00</text>
<line x1="555.40" y1="271.30" x2="555.40" y2="273.70" stroke="#333333" stroke-width="0.8"/>
<text x="0" y="0" transform="translate(555.40 281.10) scale(0.9091 1)" font-size="7.810" text-anchor="middle" fill="#4d4d4d">0.01</text>
<line x1="589.70" y1="271.30" x2="589.70" y2="273.70" stroke="#333333" stroke-width="0.8"/>
<text x="0" y="0" transform="translate(589.70 281.10) scale(0.9091 1)" font-size="7.810" text-anchor="middle" fill="#4d4d4d">0.02</text>
<line x1="624.00" y1="271.30" x2="624.00" y2="273.70" stroke="#333333" stroke-width="0.8"/>
<text x="0" y="0" transform="translate(624.00 281.10) scale(0.9091 1)" font-size="7.810" text-anchor="middle" fill="#4d4d4d">0.03</text>
<line x1="658.30" y1="271.30" x2="658.30" y2="273.70" stroke="#333333" stroke-width="0.8"/>
<text x="0" y="0" transform="translate(658.30 281.10) scale(0.9091 1)" font-size="7.810" text-anchor="middle" fill="#4d4d4d">0.04</text>
<text x="0" y="0" transform="translate(598.45 290.60) scale(0.9259 1)" font-size="9.180" text-anchor="middle" fill="#1a1a1a">Adjusted R<tspan font-size="6.2" dy="-3.3">2</tspan></text>
<text x="0" y="0" transform="translate(509.80 309.00) scale(0.8696 1)" font-size="11.270" text-anchor="start" fill="#1a1a1a">Visit 3</text>
<line x1="534.83" y1="315.00" x2="534.83" y2="413.50" stroke="#f5f5f5" stroke-width="0.8"/>
<line x1="570.27" y1="315.00" x2="570.27" y2="413.50" stroke="#f5f5f5" stroke-width="0.8"/>
<line x1="605.73" y1="315.00" x2="605.73" y2="413.50" stroke="#f5f5f5" stroke-width="0.8"/>
<line x1="641.18" y1="315.00" x2="641.18" y2="413.50" stroke="#f5f5f5" stroke-width="0.8"/>
<line x1="676.62" y1="315.00" x2="676.62" y2="413.50" stroke="#f5f5f5" stroke-width="0.8"/>
<line x1="517.10" y1="315.00" x2="517.10" y2="413.50" stroke="#ebebeb" stroke-width="1"/>
<line x1="552.55" y1="315.00" x2="552.55" y2="413.50" stroke="#ebebeb" stroke-width="1"/>
<line x1="588.00" y1="315.00" x2="588.00" y2="413.50" stroke="#ebebeb" stroke-width="1"/>
<line x1="623.45" y1="315.00" x2="623.45" y2="413.50" stroke="#ebebeb" stroke-width="1"/>
<line x1="658.90" y1="315.00" x2="658.90" y2="413.50" stroke="#ebebeb" stroke-width="1"/>
<line x1="509.50" y1="342.00" x2="683.50" y2="342.00" stroke="#ebebeb" stroke-width="1"/>
<line x1="509.50" y1="386.90" x2="683.50" y2="386.90" stroke="#ebebeb" stroke-width="1"/>
<rect x="517.10" y="322.10" width="95.72" height="19.90" fill="#4a9a8a" stroke="none" stroke-width="0"/>
<rect x="517.10" y="342.00" width="38.29" height="19.90" fill="#400a55" stroke="none" stroke-width="0"/>
<rect x="517.10" y="367.00" width="69.13" height="19.90" fill="#4a9a8a" stroke="none" stroke-width="0"/>
<rect x="517.10" y="386.90" width="69.13" height="20.30" fill="#400a55" stroke="none" stroke-width="0"/>
<rect x="509.5" y="315.0" width="174.0" height="98.5" fill="none" stroke="#9a9a9a" stroke-width="1"/>
<line x1="507.10" y1="342.00" x2="509.50" y2="342.00" stroke="#333333" stroke-width="0.8"/>
<text x="0" y="0" transform="translate(505.90 344.95) scale(0.9091 1)" font-size="7.700" text-anchor="end" fill="#4d4d4d">Moisture</text>
<line x1="507.10" y1="386.90" x2="509.50" y2="386.90" stroke="#333333" stroke-width="0.8"/>
<text x="0" y="0" transform="translate(505.90 389.85) scale(0.9091 1)" font-size="7.700" text-anchor="end" fill="#4d4d4d">Group</text>
<line x1="517.10" y1="413.50" x2="517.10" y2="415.90" stroke="#333333" stroke-width="0.8"/>
<text x="0" y="0" transform="translate(517.10 423.30) scale(0.9091 1)" font-size="7.810" text-anchor="middle" fill="#4d4d4d">0.00</text>
<line x1="552.55" y1="413.50" x2="552.55" y2="415.90" stroke="#333333" stroke-width="0.8"/>
<text x="0" y="0" transform="translate(552.55 423.30) scale(0.9091 1)" font-size="7.810" text-anchor="middle" fill="#4d4d4d">0.01</text>
<line x1="588.00" y1="413.50" x2="588.00" y2="415.90" stroke="#333333" stroke-width="0.8"/>
<text x="0" y="0" transform="translate(588.00 423.30) scale(0.9091 1)" font-size="7.810" text-anchor="middle" fill="#4d4d4d">0.02</text>
<line x1="623.45" y1="413.50" x2="623.45" y2="415.90" stroke="#333333" stroke-width="0.8"/>
<text x="0" y="0" transform="translate(623.45 423.30) scale(0.9091 1)" font-size="7.810" text-anchor="middle" fill="#4d4d4d">0.03</text>
<line x1="658.90" y1="413.50" x2="658.90" y2="415.90" stroke="#333333" stroke-width="0.8"/>
<text x="0" y="0" transform="translate(658.90 423.30) scale(0.9091 1)" font-size="7.810" text-anchor="middle" fill="#4d4d4d">0.04</text>
<text x="0" y="0" transform="translate(596.50 432.80) scale(0.9259 1)" font-size="9.180" text-anchor="middle" fill="#1a1a1a">Adjusted R<tspan font-size="6.2" dy="-3.3">2</tspan></text>
<text x="0" y="0" transform="translate(533.60 462.80) scale(0.9259 1)" font-size="7.884" text-anchor="start" fill="#1a1a1a">Variance</text>
<rect x="569.20" y="454.70" width="10.70" height="10.70" fill="#400a55" stroke="none" stroke-width="0"/>
<text x="583.4" y="462.6" font-size="7.3" fill="#1a1a1a">R<tspan font-size="3.9" dy="-3.3">2</tspan></text>
<rect x="598.70" y="454.70" width="10.70" height="10.70" fill="#4a9a8a" stroke="none" stroke-width="0"/>
<text x="613.3" y="462.6" font-size="7.3" fill="#1a1a1a">Cumulative R<tspan font-size="3.9" dy="-3.3">2</tspan></text>
<text x="1.00" y="246.90" font-size="14.8" text-anchor="start" fill="#000" font-weight="bold">C</text>
<text x="0" y="0" transform="translate(122.80 247.00) scale(0.9434 1)" font-size="9.116" text-anchor="start" fill="#1a1a1a">Metagenomic Taxa</text>
<line x1="150.50" y1="251.60" x2="150.50" y2="405.50" stroke="#ebebeb" stroke-width="1"/>
<line x1="195.70" y1="251.60" x2="195.70" y2="405.50" stroke="#ebebeb" stroke-width="1"/>
<line x1="241.00" y1="251.60" x2="241.00" y2="405.50" stroke="#ebebeb" stroke-width="1"/>
<line x1="286.30" y1="251.60" x2="286.30" y2="405.50" stroke="#ebebeb" stroke-width="1"/>
<line x1="331.60" y1="251.60" x2="331.60" y2="405.50" stroke="#ebebeb" stroke-width="1"/>
<line x1="123.30" y1="261.60" x2="358.70" y2="261.60" stroke="#ebebeb" stroke-width="1"/>
<line x1="123.30" y1="278.31" x2="358.70" y2="278.31" stroke="#ebebeb" stroke-width="1"/>
<line x1="123.30" y1="295.02" x2="358.70" y2="295.02" stroke="#ebebeb" stroke-width="1"/>
<line x1="123.30" y1="311.73" x2="358.70" y2="311.73" stroke="#ebebeb" stroke-width="1"/>
<line x1="123.30" y1="328.44" x2="358.70" y2="328.44" stroke="#ebebeb" stroke-width="1"/>
<line x1="123.30" y1="345.15" x2="358.70" y2="345.15" stroke="#ebebeb" stroke-width="1"/>
<line x1="123.30" y1="361.86" x2="358.70" y2="361.86" stroke="#ebebeb" stroke-width="1"/>
<line x1="123.30" y1="378.57" x2="358.70" y2="378.57" stroke="#ebebeb" stroke-width="1"/>
<line x1="123.30" y1="395.28" x2="358.70" y2="395.28" stroke="#ebebeb" stroke-width="1"/>
<rect x="123.3" y="251.9" width="235.39999999999998" height="153.6" fill="none" stroke="#b4b4b4" stroke-width="1"/>
<polygon points="195.70,257.76 199.28,263.97 192.12,263.97" fill="#0000ff"/>
<polygon points="193.77,265.40 194.34,266.17 195.25,266.47 194.69,267.25 194.69,268.20 193.77,267.91 192.86,268.20 192.86,267.25 192.30,266.47 193.21,266.17" fill="#222"/>
<polygon points="197.62,265.40 198.19,266.17 199.10,266.47 198.54,267.25 198.54,268.20 197.62,267.91 196.71,268.20 196.71,267.25 196.15,266.47 197.06,266.17" fill="#222"/>
<polygon points="241.00,258.65 243.81,263.53 238.19,263.53" fill="#0000ff"/>
<polygon points="241.00,265.40 241.56,266.17 242.47,266.47 241.91,267.25 241.91,268.20 241.00,267.91 240.09,268.20 240.09,267.25 239.53,266.47 240.44,266.17" fill="#222"/>
<circle cx="286.30" cy="262.00" r="2.80" fill="#ff1a1a"/>
<polygon points="284.38,265.40 284.94,266.17 285.85,266.47 285.29,267.25 285.29,268.20 284.38,267.91 283.46,268.20 283.46,267.25 282.90,266.47 283.81,266.17" fill="#222"/>
<polygon points="288.23,265.40 288.79,266.17 289.70,266.47 289.14,267.25 289.14,268.20 288.23,267.91 287.31,268.20 287.31,267.25 286.75,266.47 287.66,266.17" fill="#222"/>
<circle cx="331.60" cy="262.00" r="2.20" fill="#ff1a1a"/>
<polygon points="331.60,265.40 332.16,266.17 333.07,266.47 332.51,267.25 332.51,268.20 331.60,267.91 330.69,268.20 330.69,267.25 330.13,266.47 331.04,266.17" fill="#222"/>
<polygon points="195.70,274.77 199.03,280.53 192.37,280.53" fill="#0000ff"/>
<polygon points="191.85,282.11 192.41,282.88 193.32,283.18 192.76,283.96 192.76,284.91 191.85,284.62 190.94,284.91 190.94,283.96 190.38,283.18 191.29,282.88" fill="#222"/>
<polygon points="195.70,282.11 196.26,282.88 197.17,283.18 196.61,283.96 196.61,284.91 195.70,284.62 194.79,284.91 194.79,283.96 194.23,283.18 195.14,282.88" fill="#222"/>
<polygon points="199.55,282.11 200.11,282.88 201.02,283.18 200.46,283.96 200.46,284.91 199.55,284.62 198.64,284.91 198.64,283.96 198.08,283.18 198.99,282.88" fill="#222"/>
<polygon points="241.00,275.66 243.56,280.09 238.44,280.09" fill="#0000ff"/>
<polygon points="241.00,282.11 241.56,282.88 242.47,283.18 241.91,283.96 241.91,284.91 241.00,284.62 240.09,284.91 240.09,283.96 239.53,283.18 240.44,282.88" fill="#222"/>
<circle cx="286.30" cy="278.71" r="2.45" fill="#ff1a1a"/>
<polygon points="282.45,282.11 283.01,282.88 283.92,283.18 283.36,283.96 283.36,284.91 282.45,284.62 281.54,284.91 281.54,283.96 280.98,283.18 281.89,282.88" fill="#222"/>
<polygon points="286.30,282.11 286.86,282.88 287.77,283.18 287.21,283.96 287.21,284.91 286.30,284.62 285.39,284.91 285.39,283.96 284.83,283.18 285.74,282.88" fill="#222"/>
<polygon points="290.15,282.11 290.71,282.88 291.62,283.18 291.06,283.96 291.06,284.91 290.15,284.62 289.24,284.91 289.24,283.96 288.68,283.18 289.59,282.88" fill="#222"/>
<circle cx="331.60" cy="278.71" r="2.00" fill="#ff1a1a"/>
<polygon points="331.60,282.11 332.16,282.88 333.07,283.18 332.51,283.96 332.51,284.91 331.60,284.62 330.69,284.91 330.69,283.96 330.13,283.18 331.04,282.88" fill="#222"/>
<polygon points="150.50,292.37 153.06,296.80 147.94,296.80" fill="#0000ff"/>
<polygon points="148.57,298.82 149.14,299.59 150.05,299.89 149.49,300.67 149.49,301.62 148.57,301.33 147.66,301.62 147.66,300.67 147.10,299.89 148.01,299.59" fill="#222"/>
<polygon points="152.43,298.82 152.99,299.59 153.90,299.89 153.34,300.67 153.34,301.62 152.43,301.33 151.51,301.62 151.51,300.67 150.95,299.89 151.86,299.59" fill="#222"/>
<polygon points="195.70,289.78 200.50,298.09 190.90,298.09" fill="#0000ff"/>
<polygon points="191.85,298.82 192.41,299.59 193.32,299.89 192.76,300.67 192.76,301.62 191.85,301.33 190.94,301.62 190.94,300.67 190.38,299.89 191.29,299.59" fill="#222"/>
<polygon points="195.70,298.82 196.26,299.59 197.17,299.89 196.61,300.67 196.61,301.62 195.70,301.33 194.79,301.62 194.79,300.67 194.23,299.89 195.14,299.59" fill="#222"/>
<polygon points="199.55,298.82 200.11,299.59 201.02,299.89 200.46,300.67 200.46,301.62 199.55,301.33 198.64,301.62 198.64,300.67 198.08,299.89 198.99,299.59" fill="#222"/>
<polygon points="241.00,289.85 245.73,298.05 236.27,298.05" fill="#0000ff"/>
<polygon points="237.15,298.82 237.71,299.59 238.62,299.89 238.06,300.67 238.06,301.62 237.15,301.33 236.24,301.62 236.24,300.67 235.68,299.89 236.59,299.59" fill="#222"/>
<polygon points="241.00,298.82 241.56,299.59 242.47,299.89 241.91,300.67 241.91,301.62 241.00,301.33 240.09,301.62 240.09,300.67 239.53,299.89 240.44,299.59" fill="#222"/>
<polygon points="244.85,298.82 245.41,299.59 246.32,299.89 245.76,300.67 245.76,301.62 244.85,301.33 243.94,301.62 243.94,300.67 243.38,299.89 244.29,299.59" fill="#222"/>
<circle cx="241.00" cy="312.13" r="2.30" fill="#ff1a1a"/>
<polygon points="239.07,315.53 239.64,316.30 240.55,316.60 239.99,317.38 239.99,318.33 239.07,318.04 238.16,318.33 238.16,317.38 237.60,316.60 238.51,316.30" fill="#222"/>
<polygon points="242.93,315.53 243.49,316.30 244.40,316.60 243.84,317.38 243.84,318.33 242.93,318.04 242.01,318.33 242.01,317.38 241.45,316.60 242.36,316.30" fill="#222"/>
<polygon points="195.70,324.90 199.03,330.66 192.37,330.66" fill="#0000ff"/>
<polygon points="193.77,332.24 194.34,333.01 195.25,333.31 194.69,334.09 194.69,335.04 193.77,334.75 192.86,335.04 192.86,334.09 192.30,333.31 193.21,333.01" fill="#222"/>
<polygon points="197.62,332.24 198.19,333.01 199.10,333.31 198.54,334.09 198.54,335.04 197.62,334.75 196.71,335.04 196.71,334.09 196.15,333.31 197.06,333.01" fill="#222"/>
<polygon points="241.00,325.86 243.49,330.18 238.51,330.18" fill="#0000ff"/>
<polygon points="241.00,332.24 241.56,333.01 242.47,333.31 241.91,334.09 241.91,335.04 241.00,334.75 240.09,335.04 240.09,334.09 239.53,333.31 240.44,333.01" fill="#222"/>
<circle cx="286.30" cy="328.84" r="2.70" fill="#ff1a1a"/>
<polygon points="284.38,332.24 284.94,333.01 285.85,333.31 285.29,334.09 285.29,335.04 284.38,334.75 283.46,335.04 283.46,334.09 282.90,333.31 283.81,333.01" fill="#222"/>
<polygon points="288.23,332.24 288.79,333.01 289.70,333.31 289.14,334.09 289.14,335.04 288.23,334.75 287.31,335.04 287.31,334.09 286.75,333.31 287.66,333.01" fill="#222"/>
<polygon points="150.50,341.02 154.34,347.67 146.66,347.67" fill="#0000ff"/>
<polygon points="146.65,348.95 147.21,349.72 148.12,350.02 147.56,350.80 147.56,351.75 146.65,351.46 145.74,351.75 145.74,350.80 145.18,350.02 146.09,349.72" fill="#222"/>
<polygon points="150.50,348.95 151.06,349.72 151.97,350.02 151.41,350.80 151.41,351.75 150.50,351.46 149.59,351.75 149.59,350.80 149.03,350.02 149.94,349.72" fill="#222"/>
<polygon points="154.35,348.95 154.91,349.72 155.82,350.02 155.26,350.80 155.26,351.75 154.35,351.46 153.44,351.75 153.44,350.80 152.88,350.02 153.79,349.72" fill="#222"/>
<polygon points="195.70,339.69 200.69,348.33 190.71,348.33" fill="#0000ff"/>
<polygon points="191.85,348.95 192.41,349.72 193.32,350.02 192.76,350.80 192.76,351.75 191.85,351.46 190.94,351.75 190.94,350.80 190.38,350.02 191.29,349.72" fill="#222"/>
<polygon points="195.70,348.95 196.26,349.72 197.17,350.02 196.61,350.80 196.61,351.75 195.70,351.46 194.79,351.75 194.79,350.80 194.23,350.02 195.14,349.72" fill="#222"/>
<polygon points="199.55,348.95 200.11,349.72 201.02,350.02 200.46,350.80 200.46,351.75 199.55,351.46 198.64,351.75 198.64,350.80 198.08,350.02 198.99,349.72" fill="#222"/>
<polygon points="241.00,339.10 246.50,348.63 235.50,348.63" fill="#0000ff"/>
<polygon points="237.15,348.95 237.71,349.72 238.62,350.02 238.06,350.80 238.06,351.75 237.15,351.46 236.24,351.75 236.24,350.80 235.68,350.02 236.59,349.72" fill="#222"/>
<polygon points="241.00,348.95 241.56,349.72 242.47,350.02 241.91,350.80 241.91,351.75 241.00,351.46 240.09,351.75 240.09,350.80 239.53,350.02 240.44,349.72" fill="#222"/>
<polygon points="244.85,348.95 245.41,349.72 246.32,350.02 245.76,350.80 245.76,351.75 244.85,351.46 243.94,351.75 243.94,350.80 243.38,350.02 244.29,349.72" fill="#222"/>
<circle cx="331.60" cy="345.55" r="3.05" fill="#ff1a1a"/>
<polygon points="331.60,348.95 332.16,349.72 333.07,350.02 332.51,350.80 332.51,351.75 331.60,351.46 330.69,351.75 330.69,350.80 330.13,350.02 331.04,349.72" fill="#222"/>
<polygon points="150.50,359.80 152.55,363.34 148.45,363.34" fill="#0000ff"/>
<polygon points="148.57,365.66 149.14,366.43 150.05,366.73 149.49,367.51 149.49,368.46 148.57,368.17 147.66,368.46 147.66,367.51 147.10,366.73 148.01,366.43" fill="#222"/>
<polygon points="152.43,365.66 152.99,366.43 153.90,366.73 153.34,367.51 153.34,368.46 152.43,368.17 151.51,368.46 151.51,367.51 150.95,366.73 151.86,366.43" fill="#222"/>
<polygon points="331.60,360.09 333.39,363.19 329.81,363.19" fill="#0000ff"/>
<polygon points="329.68,365.66 330.24,366.43 331.15,366.73 330.59,367.51 330.59,368.46 329.68,368.17 328.76,368.46 328.76,367.51 328.20,366.73 329.11,366.43" fill="#222"/>
<polygon points="333.53,365.66 334.09,366.43 335.00,366.73 334.44,367.51 334.44,368.46 333.53,368.17 332.61,368.46 332.61,367.51 332.05,366.73 332.96,366.43" fill="#222"/>
<polygon points="150.50,376.51 152.55,380.05 148.45,380.05" fill="#0000ff"/>
<polygon points="148.57,382.37 149.14,383.14 150.05,383.44 149.49,384.22 149.49,385.17 148.57,384.88 147.66,385.17 147.66,384.22 147.10,383.44 148.01,383.14" fill="#222"/>
<polygon points="152.43,382.37 152.99,383.14 153.90,383.44 153.34,384.22 153.34,385.17 152.43,384.88 151.51,385.17 151.51,384.22 150.95,383.44 151.86,383.14" fill="#222"/>
<polygon points="286.30,377.32 287.64,379.65 284.96,379.65" fill="#0000ff"/>
<polygon points="286.30,382.37 286.86,383.14 287.77,383.44 287.21,384.22 287.21,385.17 286.30,384.88 285.39,385.17 285.39,384.22 284.83,383.44 285.74,383.14" fill="#222"/>
<polygon points="331.60,376.80 333.39,379.90 329.81,379.90" fill="#0000ff"/>
<polygon points="329.68,382.37 330.24,383.14 331.15,383.44 330.59,384.22 330.59,385.17 329.68,384.88 328.76,385.17 328.76,384.22 328.20,383.44 329.11,383.14" fill="#222"/>
<polygon points="333.53,382.37 334.09,383.14 335.00,383.44 334.44,384.22 334.44,385.17 333.53,384.88 332.61,385.17 332.61,384.22 332.05,383.44 332.96,383.14" fill="#222"/>
<polygon points="150.50,392.63 153.06,397.06 147.94,397.06" fill="#0000ff"/>
<polygon points="146.65,399.08 147.21,399.85 148.12,400.15 147.56,400.93 147.56,401.88 146.65,401.59 145.74,401.88 145.74,400.93 145.18,400.15 146.09,399.85" fill="#222"/>
<polygon points="150.50,399.08 151.06,399.85 151.97,400.15 151.41,400.93 151.41,401.88 150.50,401.59 149.59,401.88 149.59,400.93 149.03,400.15 149.94,399.85" fill="#222"/>
<polygon points="154.35,399.08 154.91,399.85 155.82,400.15 155.26,400.93 155.26,401.88 154.35,401.59 153.44,401.88 153.44,400.93 152.88,400.15 153.79,399.85" fill="#222"/>
<circle cx="195.70" cy="395.68" r="1.75" fill="#ff1a1a"/>
<polygon points="195.70,399.08 196.26,399.85 197.17,400.15 196.61,400.93 196.61,401.88 195.70,401.59 194.79,401.88 194.79,400.93 194.23,400.15 195.14,399.85" fill="#222"/>
<circle cx="241.00" cy="395.68" r="1.75" fill="#ff1a1a"/>
<polygon points="241.00,399.08 241.56,399.85 242.47,400.15 241.91,400.93 241.91,401.88 241.00,401.59 240.09,401.88 240.09,400.93 239.53,400.15 240.44,399.85" fill="#222"/>
<polygon points="286.30,392.99 288.54,396.87 284.06,396.87" fill="#0000ff"/>
<polygon points="284.38,399.08 284.94,399.85 285.85,400.15 285.29,400.93 285.29,401.88 284.38,401.59 283.46,401.88 283.46,400.93 282.90,400.15 283.81,399.85" fill="#222"/>
<polygon points="288.23,399.08 288.79,399.85 289.70,400.15 289.14,400.93 289.14,401.88 288.23,401.59 287.31,401.88 287.31,400.93 286.75,400.15 287.66,399.85" fill="#222"/>
<polygon points="331.60,392.99 333.84,396.87 329.36,396.87" fill="#0000ff"/>
<polygon points="327.75,399.08 328.31,399.85 329.22,400.15 328.66,400.93 328.66,401.88 327.75,401.59 326.84,401.88 326.84,400.93 326.28,400.15 327.19,399.85" fill="#222"/>
<polygon points="331.60,399.08 332.16,399.85 333.07,400.15 332.51,400.93 332.51,401.88 331.60,401.59 330.69,401.88 330.69,400.93 330.13,400.15 331.04,399.85" fill="#222"/>
<polygon points="335.45,399.08 336.01,399.85 336.92,400.15 336.36,400.93 336.36,401.88 335.45,401.59 334.54,401.88 334.54,400.93 333.98,400.15 334.89,399.85" fill="#222"/>
<line x1="120.90" y1="261.60" x2="123.30" y2="261.60" stroke="#333333" stroke-width="0.8"/>
<text x="0" y="0" transform="translate(118.00 261.00) scale(0.9259 1)" font-size="7.182" text-anchor="end" fill="#4d4d4d">Ruminococcus species incertae sedis</text>
<text x="0" y="0" transform="translate(118.00 267.50) scale(0.9259 1)" font-size="5.724" text-anchor="end" fill="#4d4d4d">[ext_mOTU_v3_26371]</text>
<line x1="120.90" y1="278.31" x2="123.30" y2="278.31" stroke="#333333" stroke-width="0.8"/>
<text x="0" y="0" transform="translate(118.00 277.71) scale(0.9259 1)" font-size="7.182" text-anchor="end" fill="#4d4d4d">Ruminococcus&#160;bicirculans&#160;</text>
<text x="0" y="0" transform="translate(118.00 284.21) scale(0.9259 1)" font-size="5.724" text-anchor="end" fill="#4d4d4d">[ref_mOTU_v3_02792]</text>
<line x1="120.90" y1="295.02" x2="123.30" y2="295.02" stroke="#333333" stroke-width="0.8"/>
<text x="0" y="0" transform="translate(118.00 294.42) scale(0.9259 1)" font-size="7.182" text-anchor="end" fill="#333" font-weight="bold">Lactobacillus&#160;rhamnosus&#160;</text>
<text x="0" y="0" transform="translate(118.00 300.92) scale(0.9259 1)" font-size="5.724" text-anchor="end" fill="#333" font-weight="bold">[ref_mOTU_v3_00710]</text>
<line x1="120.90" y1="311.73" x2="123.30" y2="311.73" stroke="#333333" stroke-width="0.8"/>
<text x="0" y="0" transform="translate(118.00 314.23) scale(0.9259 1)" font-size="7.182" text-anchor="end" fill="#4d4d4d">g_Veillonella</text>
<line x1="120.90" y1="328.44" x2="123.30" y2="328.44" stroke="#333333" stroke-width="0.8"/>
<text x="0" y="0" transform="translate(118.00 330.94) scale(0.9259 1)" font-size="7.182" text-anchor="end" fill="#4d4d4d">g_Pseudoflavonifractor</text>
<line x1="120.90" y1="345.15" x2="123.30" y2="345.15" stroke="#333333" stroke-width="0.8"/>
<text x="0" y="0" transform="translate(118.00 347.65) scale(0.9259 1)" font-size="7.182" text-anchor="end" fill="#4d4d4d">g_Lactobacillus</text>
<line x1="120.90" y1="361.86" x2="123.30" y2="361.86" stroke="#333333" stroke-width="0.8"/>
<text x="0" y="0" transform="translate(118.00 364.36) scale(0.9259 1)" font-size="7.182" text-anchor="end" fill="#4d4d4d">g_Dorea</text>
<line x1="120.90" y1="378.57" x2="123.30" y2="378.57" stroke="#333333" stroke-width="0.8"/>
<text x="0" y="0" transform="translate(118.00 381.07) scale(0.9259 1)" font-size="7.182" text-anchor="end" fill="#4d4d4d">g_Blautia</text>
<line x1="120.90" y1="395.28" x2="123.30" y2="395.28" stroke="#333333" stroke-width="0.8"/>
<text x="0" y="0" transform="translate(118.00 394.68) scale(0.9259 1)" font-size="7.182" text-anchor="end" fill="#4d4d4d">Clostridiales&#160;species&#160;incertae&#160;sedis&#160;</text>
<text x="0" y="0" transform="translate(118.00 401.18) scale(0.9259 1)" font-size="5.724" text-anchor="end" fill="#4d4d4d">[meta_mOTU_v3_12554]</text>
<line x1="150.50" y1="405.50" x2="150.50" y2="407.90" stroke="#333333" stroke-width="0.8"/>
<text x="0" y="0" font-size="7.2" text-anchor="end" fill="#4d4d4d" transform="translate(153.50 413.10) rotate(-45)">Probiotic</text>
<line x1="195.70" y1="405.50" x2="195.70" y2="407.90" stroke="#333333" stroke-width="0.8"/>
<text x="0" y="0" font-size="7.2" text-anchor="end" fill="#4d4d4d" transform="translate(198.70 413.10) rotate(-45)">Probiotic:Visit 2</text>
<line x1="241.00" y1="405.50" x2="241.00" y2="407.90" stroke="#333333" stroke-width="0.8"/>
<text x="0" y="0" font-size="7.2" text-anchor="end" fill="#4d4d4d" transform="translate(244.00 413.10) rotate(-45)">Probiotic:Visit 3</text>
<line x1="286.30" y1="405.50" x2="286.30" y2="407.90" stroke="#333333" stroke-width="0.8"/>
<text x="0" y="0" font-size="7.2" text-anchor="end" fill="#4d4d4d" transform="translate(289.30 413.10) rotate(-45)">Visit 2</text>
<line x1="331.60" y1="405.50" x2="331.60" y2="407.90" stroke="#333333" stroke-width="0.8"/>
<text x="0" y="0" font-size="7.2" text-anchor="end" fill="#4d4d4d" transform="translate(334.60 413.10) rotate(-45)">Visit 3</text>
<line x1="361.90" y1="293.60" x2="361.90" y2="301.20" stroke="#1a1a1a" stroke-width="0.85"/>
<line x1="378.60" y1="293.60" x2="378.60" y2="301.20" stroke="#1a1a1a" stroke-width="0.85"/>
<text x="367.6" y="301.0" font-size="11.2" font-style="italic" fill="#1a1a1a">β</text>
<circle cx="368.20" cy="314.40" r="2.05" fill="#000"/>
<text x="0" y="0" transform="translate(376.80 316.50) scale(0.9091 1)" font-size="6.160" text-anchor="start" fill="#1a1a1a">1</text>
<circle cx="368.20" cy="325.80" r="2.85" fill="#000"/>
<text x="0" y="0" transform="translate(376.80 327.90) scale(0.9091 1)" font-size="6.160" text-anchor="start" fill="#1a1a1a">2</text>
<circle cx="368.20" cy="337.20" r="3.55" fill="#000"/>
<text x="0" y="0" transform="translate(376.80 339.30) scale(0.9091 1)" font-size="6.160" text-anchor="start" fill="#1a1a1a">3</text>
<circle cx="368.20" cy="348.60" r="3.95" fill="#000"/>
<text x="0" y="0" transform="translate(376.80 350.70) scale(0.9091 1)" font-size="6.160" text-anchor="start" fill="#1a1a1a">4</text>
<circle cx="368.20" cy="360.00" r="4.45" fill="#000"/>
<text x="0" y="0" transform="translate(376.80 362.10) scale(0.9091 1)" font-size="6.160" text-anchor="start" fill="#1a1a1a">5</text>
<circle cx="368.20" cy="371.40" r="4.90" fill="#000"/>
<text x="0" y="0" transform="translate(376.80 373.50) scale(0.9091 1)" font-size="6.160" text-anchor="start" fill="#1a1a1a">6</text>
<text x="17.60" y="462.9" font-size="6.8" fill="#1a1a1a">&gt;</text>
<text x="23.40" y="462.9" font-size="6.8" fill="#1a1a1a">0.1</text>
<rect x="34.70" y="459.30" width="2.10" height="2.10" fill="#1a1a1a" stroke="none" stroke-width="0"/>
<text x="38.70" y="462.9" font-size="6.8" fill="#1a1a1a">&lt;</text>
<text x="44.40" y="462.9" font-size="6.8" fill="#1a1a1a">0.1</text>
<polygon points="58.00,456.80 59.06,458.94 61.42,459.29 59.71,460.96 60.12,463.31 58.00,462.20 55.88,463.31 56.29,460.96 54.58,459.29 56.94,458.94" fill="#1a1a1a"/>
<text x="64.30" y="462.9" font-size="6.8" fill="#1a1a1a">&lt;</text>
<text x="70.40" y="462.9" font-size="6.8" fill="#1a1a1a">0.05</text>
<polygon points="90.60,456.80 91.66,458.94 94.02,459.29 92.31,460.96 92.72,463.31 90.60,462.20 88.48,463.31 88.89,460.96 87.18,459.29 89.54,458.94" fill="#1a1a1a"/>
<polygon points="98.60,456.80 99.66,458.94 102.02,459.29 100.31,460.96 100.72,463.31 98.60,462.20 96.48,463.31 96.89,460.96 95.18,459.29 97.54,458.94" fill="#1a1a1a"/>
<text x="103.20" y="462.9" font-size="6.8" fill="#1a1a1a">&lt;</text>
<text x="108.90" y="462.9" font-size="6.8" fill="#1a1a1a">0.01</text>
<polygon points="127.10,456.80 128.16,458.94 130.52,459.29 128.81,460.96 129.22,463.31 127.10,462.20 124.98,463.31 125.39,460.96 123.68,459.29 126.04,458.94" fill="#1a1a1a"/>
<polygon points="134.50,456.80 135.56,458.94 137.92,459.29 136.21,460.96 136.62,463.31 134.50,462.20 132.38,463.31 132.79,460.96 131.08,459.29 133.44,458.94" fill="#1a1a1a"/>
<polygon points="141.90,456.80 142.96,458.94 145.32,459.29 143.61,460.96 144.02,463.31 141.90,462.20 139.78,463.31 140.19,460.96 138.48,459.29 140.84,458.94" fill="#1a1a1a"/>
<text x="0" y="0" transform="translate(197.80 464.00) scale(0.9709 1)" font-size="10.403" text-anchor="start" fill="#111">Dominance</text>
<circle cx="262.40" cy="460.10" r="3.60" fill="#ff1a1a"/>
<text x="0" y="0" transform="translate(276.60 463.60) scale(0.9524 1)" font-size="9.083" text-anchor="start" fill="#1a1a1a">Decrease</text>
<polygon points="334.30,457.00 338.34,464.00 330.26,464.00" fill="#0000ff"/>
<text x="0" y="0" transform="translate(348.70 463.60) scale(0.9524 1)" font-size="8.925" text-anchor="start" fill="#1a1a1a">Increase</text>
</svg>
</body></html>
